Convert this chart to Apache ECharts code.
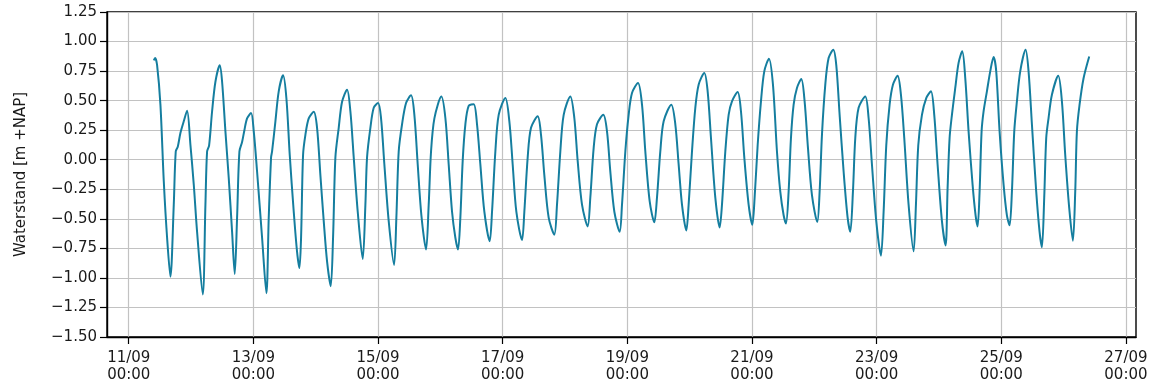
<!DOCTYPE html>
<html>
<head>
<meta charset="utf-8">
<script src="https://cdn.jsdelivr.net/npm/echarts@6/dist/echarts.min.js"></script>
<style>
html,body{margin:0;padding:0;background:#fff;}
#chart{width:1157px;height:391px;}
</style>
</head>
<body>
<div id="chart"></div>
<script>
// Hours since 11/09 00:00
const hoursFrom11Sep = [
9.64,10.15,10.92,12.2,13.49,14.77,16.05,17.34,18.1,18.88,19.9,21.19,22.47,23.75,25.04,26.32,28.5,29.53,30.17,30.94,32.1,33.38,35.05,35.95,37.23,38.51,39.8,40.82,41.72,42.62,43.65,44.54,45.57,47.11,48.14,49.42,51.35,53.01,
53.91,54.81,55.2,56.48,57.76,59.43,60.71,62.0,63.54,64.82,65.72,66.36,67.13,68.03,69.31,71.24,72.52,73.8,75.09,76.37,77.78,78.68,79.58,80.86,82.15,84.07,85.35,86.64,88.18,90.1,91.13,91.77,93.05,94.34,96.01,97.16,98.44,100.11,102.17,103.06,103.96,105.25,106.79,108.71,109.99,111.28,112.69,114.49,115.51,116.41,117.7,
120.39,121.93,123.21,124.5,125.78,126.81,127.7,128.6,129.63,130.91,132.84,134.12,135.4,136.94,139.0,139.9,141.18,142.46,145.03,146.57,147.85,149.26,151.45,152.34,153.63,154.91,157.48,158.76,160.04,161.71,163.89,164.92,166.2,167.49,170.05,171.59,172.88,174.55,176.73,177.75,179.04,180.32,182.75,
184.17,185.45,187.0,189.05,189.95,191.23,192.51,193.8,196.11,197.65,198.93,200.6,202.39,203.42,204.7,205.99,208.94,210.48,211.76,213.05,214.71,215.61,216.9,218.18,219.46,221.64,222.93,224.21,225.88,227.55,228.45,229.73,231.01,232.3,234.48,235.76,237.04,238.71,240.12,241.02,242.18,243.46,244.74,246.54,248.08,
249.62,250.9,252.19,253.09,254.11,255.01,256.04,257.32,258.99,260.27,261.56,263.1,265.15,266.05,266.95,268.23,269.51,271.31,272.46,273.75,275.29,276.83,277.85,278.88,279.78,281.06,283.63,284.91,286.2,287.86,289.66,290.69,291.71,293.0,294.28,296.08,297.36,298.64,300.31,302.24,303.14,304.03,305.45,307.11,308.91,310.19,311.48,313.15,314.56,
315.33,316.1,317.0,318.28,319.56,320.97,322.13,323.41,324.95,326.11,326.88,327.65,328.42,329.19,330.47,331.75,333.04,334.06,335.35,336.89,338.17,339.2,340.1,341.0,342.02,343.3,345.36,346.51,347.8,349.46,350.75,351.65,352.54,353.31,354.21,355.5,357.93,359.35,360.63,362.17,363.58,364.48,365.12,366.15,367.69,369.87
];
// Waterstand [m +NAP]
const waterLevel = [
0.84,0.86,0.80,0.466,-0.18,-0.66,-0.99,-0.38,0.07,0.11,0.226,0.325,0.415,0.127,-0.21,-0.61,-1.14,-0.38,0.07,0.12,0.41,0.66,0.80,0.66,0.24,-0.155,-0.61,-0.967,-0.49,0.07,0.15,0.25,0.35,0.395,0.24,-0.10,-0.66,-1.13,
-0.49,0.02,0.07,0.325,0.579,0.714,0.52,0.04,-0.44,-0.78,-0.917,-0.66,0.04,0.21,0.35,0.405,0.27,-0.13,-0.52,-0.86,-1.07,-0.66,0.02,0.27,0.49,0.593,0.41,0.02,-0.44,-0.84,-0.38,0.02,0.27,0.44,0.48,0.35,-0.04,-0.52,-0.89,-0.49,0.07,0.30,0.48,0.545,0.38,-0.04,-0.47,-0.76,-0.38,0.07,0.35,
0.534,0.353,-0.04,-0.44,-0.66,-0.76,-0.49,-0.01,0.30,0.455,0.47,0.30,-0.04,-0.44,-0.69,-0.44,0.07,0.38,0.522,0.325,-0.04,-0.44,-0.68,-0.44,0.02,0.27,0.367,0.21,-0.13,-0.49,-0.634,-0.38,0.07,0.38,0.536,0.353,-0.01,-0.38,-0.564,-0.32,0.10,0.30,0.38,
0.24,-0.10,-0.44,-0.61,-0.38,0.07,0.38,0.565,0.65,0.466,0.07,-0.35,-0.53,-0.32,0.07,0.325,0.466,0.30,-0.04,-0.38,-0.598,-0.38,0.07,0.44,0.635,0.734,0.579,0.184,-0.32,-0.573,-0.38,0.07,0.38,0.494,0.573,0.41,0.02,-0.38,-0.55,-0.32,0.12,0.494,0.748,0.855,0.635,
0.07,-0.27,-0.47,-0.54,-0.27,0.184,0.466,0.607,0.683,0.494,0.10,-0.30,-0.527,-0.27,0.21,0.635,0.86,0.93,0.80,0.38,-0.10,-0.49,-0.61,-0.27,0.184,0.44,0.536,0.353,-0.04,-0.52,-0.812,-0.44,0.12,0.466,0.635,0.71,0.55,0.184,-0.38,-0.775,-0.38,0.12,0.38,0.522,0.579,0.38,-0.04,-0.52,-0.725,
-0.24,0.184,0.38,0.607,0.82,0.917,0.69,0.24,-0.21,-0.47,-0.564,-0.27,0.24,0.41,0.579,0.748,0.87,0.748,0.24,-0.21,-0.47,-0.555,-0.27,0.24,0.494,0.748,0.93,0.748,0.30,-0.27,-0.61,-0.74,-0.32,0.184,0.353,0.55,0.71,0.494,0.04,-0.41,-0.685,-0.27,0.24,0.466,0.69,0.874
];
// Tick label dates (every 2 days at 00:00)
const tickDays = ['11/09','13/09','15/09','17/09','19/09','21/09','23/09','25/09','27/09'];
const yTicks = [-1.50,-1.25,-1.00,-0.75,-0.50,-0.25,0.00,0.25,0.50,0.75,1.00,1.25];

const YEAR = 2023;
const HOUR = 3600000;
const t0 = Date.UTC(YEAR, 8, 11, 0, 0);
const data = hoursFrom11Sep.map((h, i) => [t0 + h * HOUR, waterLevel[i]]);
const tMin = t0 + hoursFrom11Sep[0] * HOUR;
const tMax = t0 + hoursFrom11Sep[hoursFrom11Sep.length - 1] * HOUR;
const pad = (tMax - tMin) * 0.05;
const tickValues = tickDays.map(s => {
  const [d, m] = s.split('/').map(Number);
  return Date.UTC(YEAR, m - 1, d, 0, 0);
});
const pad2 = n => String(n).padStart(2, '0');
const FONT = 'DejaVu Sans';
const TXT = '#1a1a1a';

const chart = echarts.init(document.getElementById('chart'), null, {renderer: 'canvas'});
chart.setOption({
  animation: false,
  backgroundColor: '#ffffff',
  grid: {left: 107, right: 21, top: 12, bottom: 54, show: true, borderColor: '#000', borderWidth: 1.4, backgroundColor: 'transparent'},
  xAxis: {
    type: 'value',
    min: tMin - pad,
    max: tMax + pad,
    axisLine: {show: true, onZero: false, lineStyle: {color: '#000', width: 1.4}},
    axisTick: {show: true, length: 7, lineStyle: {color: '#000', width: 1.2}, customValues: tickValues},
    axisLabel: {
      customValues: tickValues,
      margin: 13,
      fontFamily: FONT, fontSize: 15, color: TXT, lineHeight: 17,
      formatter: v => { const d = new Date(v); return pad2(d.getUTCDate()) + '/' + pad2(d.getUTCMonth() + 1) + '\n' + pad2(d.getUTCHours()) + ':' + pad2(d.getUTCMinutes()); }
    },
    splitLine: {show: true, lineStyle: {color: '#c2c2c2', width: 1.2}}
  },
  yAxis: {
    type: 'value',
    min: yTicks[0],
    max: yTicks[yTicks.length - 1],
    interval: 0.25,
    name: 'Waterstand [m +NAP]',
    nameLocation: 'middle',
    nameGap: 78,
    nameTextStyle: {fontFamily: FONT, fontSize: 15, color: TXT},
    axisLine: {show: true, onZero: false, lineStyle: {color: '#000', width: 1.4}},
    axisTick: {show: true, length: 7, lineStyle: {color: '#000', width: 1.2}},
    axisLabel: {
      margin: 10, fontFamily: FONT, fontSize: 15, color: TXT,
      formatter: v => v.toFixed(2).replace('-', '\u2212')
    },
    splitLine: {show: true, lineStyle: {color: '#c2c2c2', width: 1.2}}
  },
  series: [{
    type: 'line',
    data: data,
    showSymbol: false,
    smooth: 0.3,
    lineStyle: {color: '#157e9f', width: 2},
    itemStyle: {color: '#157e9f'},
    z: 3
  }]
});
</script>
</body>
</html>
